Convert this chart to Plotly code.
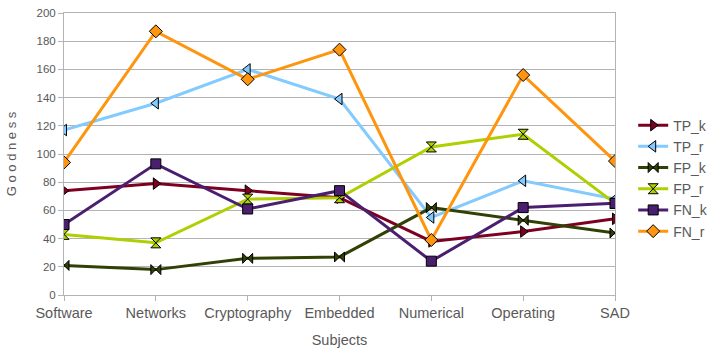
import plotly.graph_objects as go

subjects = ["Software", "Networks", "Cryptography", "Embedded", "Numerical", "Operating", "SAD"]
TP_k = [74, 79, 74, 69, 38, 45, 54]
TP_r = [117, 136, 160, 139, 55, 81, 68]
FP_k = [21, 18, 26, 27, 62, 53, 44]
FP_r = [43, 37, 68, 69, 105, 114, 65]
FN_k = [50, 93, 61, 74, 24, 62, 65]
FN_r = [94, 187, 153, 174, 39, 156, 95]

series = [
    ("TP_k", TP_k, "#7E0021", "triangle-right"),
    ("TP_r", TP_r, "#83CAFF", "triangle-left"),
    ("FP_k", FP_k, "#314004", "bowtie"),
    ("FP_r", FP_r, "#AECF00", "hourglass"),
    ("FN_k", FN_k, "#4B1F6F", "square"),
    ("FN_r", FN_r, "#FF950E", "diamond"),
]

fig = go.Figure()
for name, vals, color, sym in series:
    fig.add_trace(go.Scatter(
        x=list(range(len(subjects))), y=vals, name=name, mode="lines+markers",
        line=dict(color=color, width=3),
        marker=dict(symbol=sym, size=10, color=color, line=dict(color="#000000", width=1)),
    ))

font = "Liberation Sans, Arial, sans-serif"
fig.update_layout(
    width=710, height=348,
    margin=dict(l=64, r=95, t=13, b=53, autoexpand=False),
    paper_bgcolor="white", plot_bgcolor="white",
    font=dict(family=font, color="#595959", size=14),
    showlegend=True,
    legend=dict(x=1.033, y=0.413, xanchor="left", yanchor="middle",
                font=dict(size=14, color="#595959"), itemwidth=30,
                tracegroupgap=0, bgcolor="rgba(0,0,0,0)"),
    xaxis=dict(
        range=[0, 6], tickmode="array", tickvals=list(range(len(subjects))), ticktext=subjects,
        showgrid=False, showline=True, linecolor="#b3b3b3", linewidth=1, mirror=True,
        ticks="outside", ticklen=5, tickcolor="#b3b3b3",
        tickfont=dict(size=14.5, color="#595959"),
        title=dict(text="Subjects", font=dict(size=14.5, color="#595959"), standoff=14),
        zeroline=False,
    ),
    yaxis=dict(
        range=[0, 200], dtick=20, showgrid=True, gridcolor="#b3b3b3", gridwidth=1,
        showline=True, linecolor="#b3b3b3", linewidth=1, mirror=True,
        ticks="outside", ticklen=5, tickcolor="#b3b3b3",
        tickfont=dict(size=11.5, color="#595959"),
        title=dict(text="G o o d n e s s", font=dict(size=13, color="#595959"), standoff=16),
        zeroline=False,
    ),
)

fig.write_html("out.html")
